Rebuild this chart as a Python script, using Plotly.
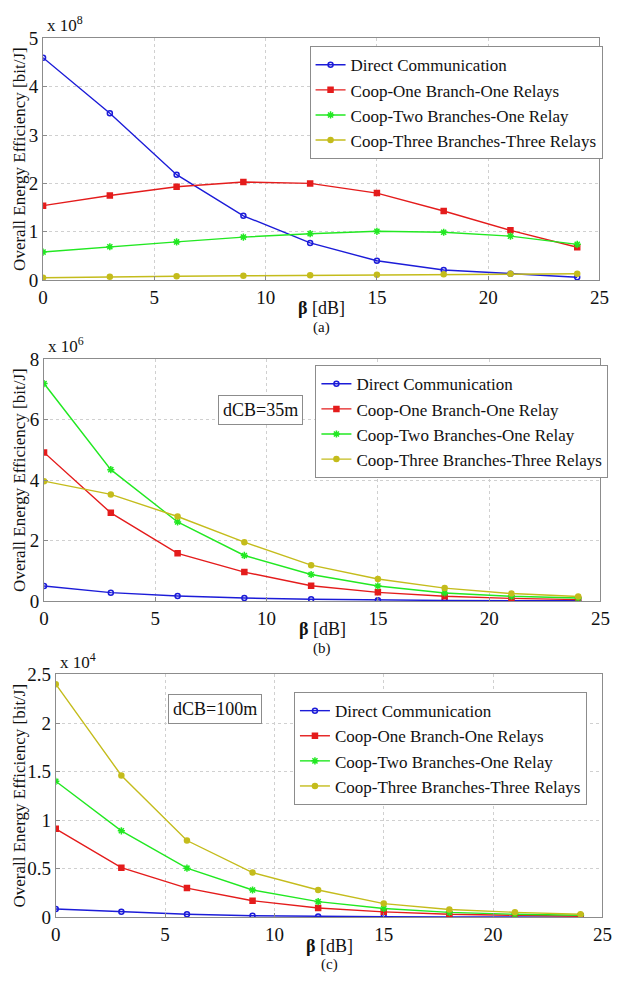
import plotly.graph_objects as go

W, H = 629, 983

beta_db = [0, 3, 6, 9, 12, 15, 18, 21, 24]
series_names_a = ["Direct Communication", "Coop-One Branch-One Relays",
                  "Coop-Two Branches-One Relay", "Coop-Three Branches-Three Relays"]
series_names_b = ["Direct Communication", "Coop-One Branch-One Relay",
                  "Coop-Two Branches-One Relay", "Coop-Three Branches-Three Relays"]
series_names_c = ["Direct Communication", "Coop-One Branch-One Relays",
                  "Coop-Two Branches-One Relay", "Coop-Three Branches-Three Relays"]

# Panel (a), values in units of 1e8 bit/J
a_direct = [4.60, 3.45, 2.18, 1.33, 0.77, 0.40, 0.21, 0.13, 0.06]
a_one = [1.54, 1.75, 1.93, 2.03, 2.00, 1.80, 1.43, 1.03, 0.68]
a_two = [0.58, 0.69, 0.79, 0.89, 0.96, 1.01, 0.99, 0.91, 0.74]
a_three = [0.05, 0.07, 0.08, 0.09, 0.10, 0.11, 0.12, 0.13, 0.13]

# Panel (b), values in units of 1e6 bit/J
b_direct = [0.50, 0.28, 0.17, 0.10, 0.06, 0.03, 0.02, 0.01, 0.01]
b_one = [4.92, 2.92, 1.58, 0.96, 0.51, 0.29, 0.16, 0.09, 0.05]
b_two = [7.20, 4.35, 2.62, 1.51, 0.88, 0.50, 0.27, 0.16, 0.10]
b_three = [3.97, 3.53, 2.80, 1.95, 1.19, 0.73, 0.43, 0.25, 0.15]

# Panel (c), values in units of 1e4 bit/J
c_direct = [0.085, 0.055, 0.030, 0.015, 0.008, 0.004, 0.002, 0.001, 0.001]
c_one = [0.91, 0.51, 0.30, 0.17, 0.095, 0.055, 0.030, 0.017, 0.010]
c_two = [1.40, 0.89, 0.505, 0.28, 0.16, 0.09, 0.05, 0.03, 0.02]
c_three = [2.40, 1.46, 0.79, 0.46, 0.28, 0.14, 0.08, 0.05, 0.03]

x_ticks = [0, 5, 10, 15, 20, 25]
a_yticks = [0, 1, 2, 3, 4, 5]
b_yticks = [0, 2, 4, 6, 8]
c_yticks = [0, 0.5, 1, 1.5, 2, 2.5]

colors = ["#1c1cd8", "#e41c1c", "#22e822", "#c4bc1c"]
symbols = ["circle-open", "square", "asterisk-open", "circle"]
msizes = [5, 5, 6, 5]

FONT = "Liberation Serif"

def px(x):
    return x / W

def py(y):
    return 1 - y / H

# panel pixel geometry: (left, right, top, bottom)
panels = [
    (39, 609, 29, 276),
    (40, 610, 357, 604),
    (52, 612, 679, 927),
]

fig = go.Figure()

data_sets = [
    (series_names_a, [a_direct, a_one, a_two, a_three]),
    (series_names_b, [b_direct, b_one, b_two, b_three]),
    (series_names_c, [c_direct, c_one, c_two, c_three]),
]

for p, (names, sets) in enumerate(data_sets):
    suffix = "" if p == 0 else str(p + 1)
    for i, (nm, vals) in enumerate(zip(names, sets)):
        fig.add_trace(go.Scatter(
            x=beta_db, y=vals, name=nm, mode="lines+markers",
            line=dict(color=colors[i], width=1.4),
            marker=dict(symbol=symbols[i], size=msizes[i], color=colors[i],
                        line=dict(color=colors[i], width=1.5)),
            xaxis="x" + suffix, yaxis="y" + suffix,
            legend="legend" + suffix,
        ))

axis_common = dict(
    showline=True, linecolor="#8c8c8c", linewidth=1, mirror=True,
    showgrid=True, gridcolor="#d0d0d0", griddash="dot", gridwidth=1,
    zeroline=False, ticks="inside", ticklen=4, tickcolor="#8c8c8c",
    tickfont=dict(family=FONT, size=19, color="#111111"),
)

yranges = [(0, 5), (0, 8), (0, 2.5)]
yticks = [a_yticks, b_yticks, c_yticks]

layout = dict(
    width=W, height=H, margin=dict(l=0, r=0, t=0, b=0),
    paper_bgcolor="white", plot_bgcolor="white",
    font=dict(family=FONT, size=16, color="#111111"),
)

legend_pos = [(312, 37, 603, 121), (318, 363, 607, 447), (296, 697, 585, 781)]

for p, (l, r, t, b) in enumerate(panels):
    suffix = "" if p == 0 else str(p + 1)
    layout["xaxis" + suffix] = dict(
        domain=[px(l), px(r)], range=[0, 25], tickvals=x_ticks,
        anchor="y" + suffix, **axis_common)
    layout["yaxis" + suffix] = dict(
        domain=[py(b), py(t)], range=list(yranges[p]), tickvals=yticks[p],
        anchor="x" + suffix, **axis_common)
    lx, ly, lr, lb = legend_pos[p]
    layout["legend" + suffix] = dict(
        x=px(lx), y=py(ly), xanchor="left", yanchor="top",
        xref="paper", yref="paper",
        bgcolor="white", bordercolor="#8c8c8c", borderwidth=1,
        font=dict(family=FONT, size=17, color="#111111"),
        itemwidth=30, tracegroupgap=0,
    )

fig.update_layout(**layout)

exps = ["8", "6", "4"]
labels = ["(a)", "(b)", "(c)"]
for p, (l, r, t, b) in enumerate(panels):
    # exponent label
    fig.add_annotation(x=px(l + 2), y=py(t - 1), xref="paper", yref="paper",
                       xanchor="left", yanchor="bottom", showarrow=False,
                       text="x 10<sup>" + exps[p] + "</sup>",
                       font=dict(family=FONT, size=17, color="#111111"))
    # y-axis title
    fig.add_annotation(x=px(15), y=py((t + b) / 2), xref="paper", yref="paper",
                       xanchor="center", yanchor="middle", showarrow=False,
                       textangle=-90, text="Overall Energy Efficiency [bit/J]",
                       font=dict(family=FONT, size=17, color="#111111"))
    # x-axis title
    fig.add_annotation(x=px((l + r) / 2), y=py(b + 29), xref="paper", yref="paper",
                       xanchor="center", yanchor="middle", showarrow=False,
                       text="<b>β</b> [dB]",
                       font=dict(family=FONT, size=18, color="#111111"))
    fig.add_annotation(x=px((l + r) / 2), y=py(b + 48), xref="paper", yref="paper",
                       xanchor="center", yanchor="middle", showarrow=False,
                       text=labels[p],
                       font=dict(family=FONT, size=15, color="#111111"))

# dCB boxes
fig.add_annotation(x=px(218), y=py(393), xref="paper", yref="paper",
                   xanchor="left", yanchor="top", showarrow=False,
                   text="dCB=35m", bgcolor="white", bordercolor="#8c8c8c",
                   borderwidth=1, borderpad=4,
                   font=dict(family=FONT, size=18, color="#111111"))
fig.add_annotation(x=px(167), y=py(699), xref="paper", yref="paper",
                   xanchor="left", yanchor="top", showarrow=False,
                   text="dCB=100m", bgcolor="white", bordercolor="#8c8c8c",
                   borderwidth=1, borderpad=4,
                   font=dict(family=FONT, size=18, color="#111111"))

fig.write_html("out.html")
